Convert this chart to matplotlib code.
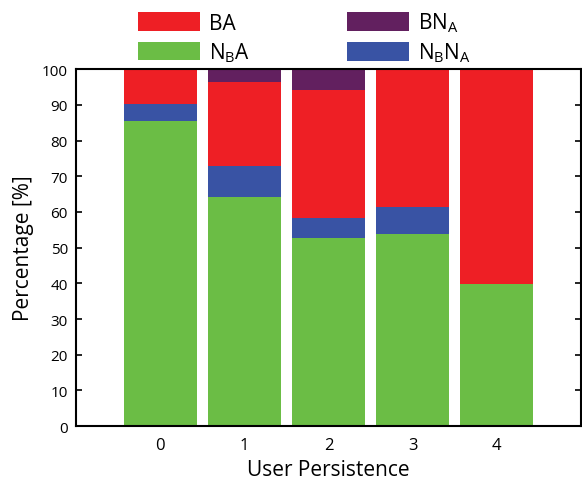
import matplotlib
matplotlib.use("Agg")
import matplotlib.pyplot as plt
import numpy as np

plt.rcParams['font.family'] = ['Open Sans', 'DejaVu Sans']
plt.rcParams['mathtext.fontset'] = 'custom'
plt.rcParams['mathtext.rm'] = 'Open Sans'

categories = ['0', '1', '2', '3', '4']
nba = [85.6, 64.3, 52.7, 53.7, 39.8]
nbna = [4.6, 8.6, 5.6, 7.8, 0.0]
ba = [9.8, 23.5, 35.8, 38.5, 60.2]
bna = [0.0, 3.6, 5.9, 0.0, 0.0]

c_red = '#EE1F25'
c_green = '#6BBD45'
c_blue = '#3953A4'
c_purple = '#62205F'

fig = plt.figure(figsize=(5.82, 4.81), dpi=100)
ax = fig.add_axes([0.131, 0.112, 0.867, 0.742])

x = np.arange(len(categories))
w = 0.865
b1 = np.array(nba)
b2 = b1 + np.array(nbna)
b3 = b2 + np.array(ba)
h_ga = ax.bar(x, nba, w, color=c_green, linewidth=0)
h_bb = ax.bar(x, nbna, w, bottom=b1, color=c_blue, linewidth=0)
h_ra = ax.bar(x, ba, w, bottom=b2, color=c_red, linewidth=0)
h_pa = ax.bar(x, bna, w, bottom=b3, color=c_purple, linewidth=0)

ax.set_xlim(-1, 5)
ax.set_ylim(0, 100)
ax.set_yticks(np.arange(0, 101, 10))
ax.set_xticks(x)
ax.set_xticklabels(categories)
ax.tick_params(axis='y', direction='in', length=4, width=1.2, labelsize=11, right=True, pad=6)
ax.tick_params(axis='x', length=0, labelsize=12, pad=8)
for s in ax.spines.values():
    s.set_linewidth(1.5)

ax.set_ylabel('Percentage [%]', fontsize=15, labelpad=6)
ax.set_xlabel('User Persistence', fontsize=15, labelpad=4)

handles = [h_ra, h_ga, h_pa, h_bb]
labels = ['BA', r'$\mathregular{N_BA}$', r'$\mathregular{BN_A}$', r'$\mathregular{N_BN_A}$']
ax.legend(handles, labels, ncol=2, frameon=False, loc='lower left',
          bbox_to_anchor=(0.118, 1.008), fontsize=15, handlelength=3.0,
          handleheight=1.0, labelspacing=0.3, columnspacing=4.65,
          handletextpad=0.4, borderaxespad=0.0, borderpad=0.1)

fig.savefig('out.png', dpi=100)
